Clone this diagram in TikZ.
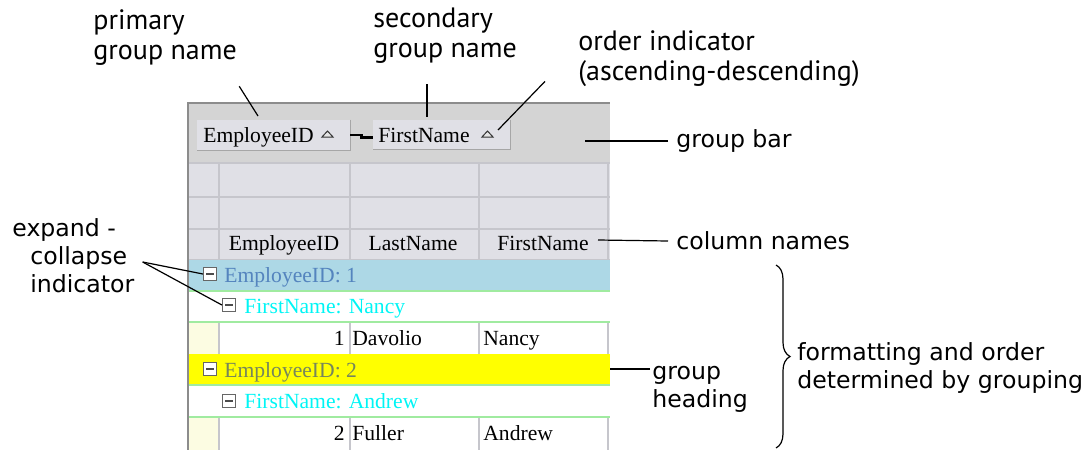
\documentclass[tikz,border=0pt]{standalone}
\usepackage{fontspec}
\setmainfont{Liberation Serif}
\newfontfamily\notefont{DejaVu Sans}
\newfontfamily\tagfont{PT Sans}
\usetikzlibrary{calc,decorations.pathreplacing}

\definecolor{barGray}{RGB}{212,212,212}
\definecolor{headGray}{RGB}{224,224,230}
\definecolor{lineGray}{RGB}{198,198,204}
\definecolor{frameGray}{RGB}{140,140,140}
\definecolor{rowBlue}{RGB}{173,216,230}
\definecolor{rowGreen}{RGB}{160,235,160}
\definecolor{rowYellow}{RGB}{255,255,0}
\definecolor{hdrYellow}{RGB}{252,252,226}
\definecolor{idBlue}{RGB}{84,132,190}
\definecolor{idOlive}{RGB}{118,134,92}
\definecolor{nameCyan}{RGB}{0,245,245}

\tikzset{
  note/.style={font=\notefont\fontsize{11.8}{14}\selectfont, inner sep=0pt, anchor=west, align=left},
  tag/.style={font=\tagfont\fontsize{14}{15}\selectfont, inner sep=0pt, anchor=west, align=left},
  cell/.style={font=\fontsize{10.8}{12}\selectfont, inner sep=0pt, text height=7.5pt, text depth=2.2pt},
  pointer/.style={draw=black, semithick},
  expander/.style={draw=black!60, fill=white, minimum size=6.5pt, inner sep=0pt, line width=0.6pt},
  gbutton/.style={fill=headGray, inner sep=0pt},
  sortmark/.style={draw=black!80, fill=black!10, line width=0.5pt}
}

\begin{document}
\begin{tikzpicture}[x=0.5pt,y=-0.5pt]
\useasboundingbox (0,0) rectangle (1088,450);

% grid background
\begin{scope}
 \clip (186,100) rectangle (610,450);
 \fill[barGray] (188,103) rectangle (610,163);
 \fill[headGray] (188,163) rectangle (610,260);
 \foreach \y in {163,197,229,260}
   \draw[lineGray, line width=0.8pt] (188,\y) -- (610,\y);
 \foreach \x in {219,350,479,608}
   \draw[lineGray, line width=0.8pt] (\x,163) -- (\x,260);

 % group rows
 \fill[rowBlue] (188,260) rectangle (610,291);
 \fill[rowYellow] (188,354) rectangle (610,385);
 \fill[hdrYellow] (188,322) rectangle (219,354);
 \fill[hdrYellow] (188,417) rectangle (219,450);
 \foreach \y in {291,322,385,417}
   \draw[rowGreen, line width=1.2pt] (188,\y) -- (610,\y);
 \foreach \x in {219,350,479,608} {
   \draw[lineGray, line width=0.6pt] (\x,323) -- (\x,354);
   \draw[lineGray, line width=0.6pt] (\x,418) -- (\x,450);
 }
\end{scope}
\draw[frameGray, line width=1.2pt] (188,450) -- (188,103) -- (610,103);

% group bar buttons
\node[gbutton, minimum width=76.5pt, minimum height=15pt] (btnA) at (273.5,135) {};
\node[gbutton, minimum width=68.5pt, minimum height=14.5pt] (btnB) at (441.5,134.5) {};
\draw[black!35, line width=0.8pt] (btnA.north east) -- (btnA.south east) -- (btnA.south west);
\draw[black!35, line width=0.8pt] (btnB.north east) -- (btnB.south east) -- (btnB.south west);
\node[cell, anchor=west] (btnAtxt) at (203,137) {EmployeeID};
\node[cell, anchor=west] (btnBtxt) at (378,137) {FirstName};
\draw[sortmark] (322,137) -- (333,137) -- (327.5,131) -- cycle;
\draw[sortmark] (482,137) -- (493,137) -- (487.5,131) -- cycle;
\draw[line width=1.3pt] (btnA.east) -- ++(11,0) |- ([yshift=-1.5pt]btnB.west);

% column headers
\node[cell] (hdrId) at (284,245) {EmployeeID};
\node[cell] (hdrLast) at (413,245) {LastName};
\node[cell] (hdrFirst) at (543,245) {FirstName};

% expand - collapse boxes
\foreach \n/\x/\y in {exA/210/274, exB/229/305, exC/210/369, exD/229/401} {
  \node[expander] (\n) at (\x,\y) {};
  \draw[black!70, line width=0.6pt] ([xshift=-1.8pt]\n.center) -- ([xshift=1.8pt]\n.center);
}

% group headings and rows
\node[cell, anchor=west, text=idBlue] (grpOne) at (224,277) {EmployeeID: 1};
\node[cell, anchor=west, text=nameCyan] (subOne) at (244,308) {FirstName: Nancy};
\node[cell, anchor=east] (idOne) at (345,340) {1};
\node[cell, anchor=west] (lastOne) at (352,340) {Davolio};
\node[cell, anchor=west] (firstOne) at (483,340) {Nancy};
\node[cell, anchor=west, text=idOlive] (grpTwo) at (224,372) {EmployeeID: 2};
\node[cell, anchor=west, text=nameCyan] (subTwo) at (244,403) {FirstName: Andrew};
\node[cell, anchor=east] (idTwo) at (345,435) {2};
\node[cell, anchor=west] (lastTwo) at (352,435) {Fuller};
\node[cell, anchor=west] (firstTwo) at (483,435) {Andrew};

% labels
\node[tag] (primaryLbl) at (93,38) {primary\\group name};
\node[tag] (secondaryLbl) at (373,36) {secondary\\group name};
\node[tag] (orderLbl) at (578,59) {order indicator\\(ascending-descending)};
\node[note] (gbarLbl) at (676,141) {group bar};
\node[note] (colLbl) at (676,241) {column names};
\node[note] (expandLbl) at (12,256) {expand -\\\hspace*{9pt}collapse\\\hspace*{9pt}indicator};
\node[note] (headLbl) at (652,389) {group\\heading};
\node[note] (fmtLbl) at (797,368) {formatting and order\\determined by grouping};

% pointers
\coordinate (primaryTip) at (258,116);
\coordinate (secondaryTip) at (427,117);
\coordinate (orderTip) at (498,130);
\coordinate (gbarTip) at (585,141);
\coordinate (colTip) at (598,240);
\coordinate (headTip) at (610,369);
\draw[pointer] ($(primaryLbl.south east)+(2,20)$) -- (primaryTip);
\draw[pointer] ($(secondaryLbl.south west)+(54,20)$) -- (secondaryTip);
\draw[pointer] ($(orderLbl.south west)+(-33,-6)$) -- (orderTip);
\draw[pointer] ([xshift=-4pt]gbarLbl.west) -- (gbarTip);
\draw[pointer] ([xshift=-4pt]colLbl.west) -- (colTip);
\draw[pointer] ($(expandLbl.east)+(8,6)$) -- (exA.west);
\draw[pointer] ($(expandLbl.east)+(8,6)$) -- (exB.west);
\draw[pointer] ($(headLbl.west)+(-2,-20)$) -- (headTip);

% brace
\draw[decorate, decoration={brace, amplitude=7pt}, semithick] (776,265) -- (776,448);
\end{tikzpicture}
\end{document}
